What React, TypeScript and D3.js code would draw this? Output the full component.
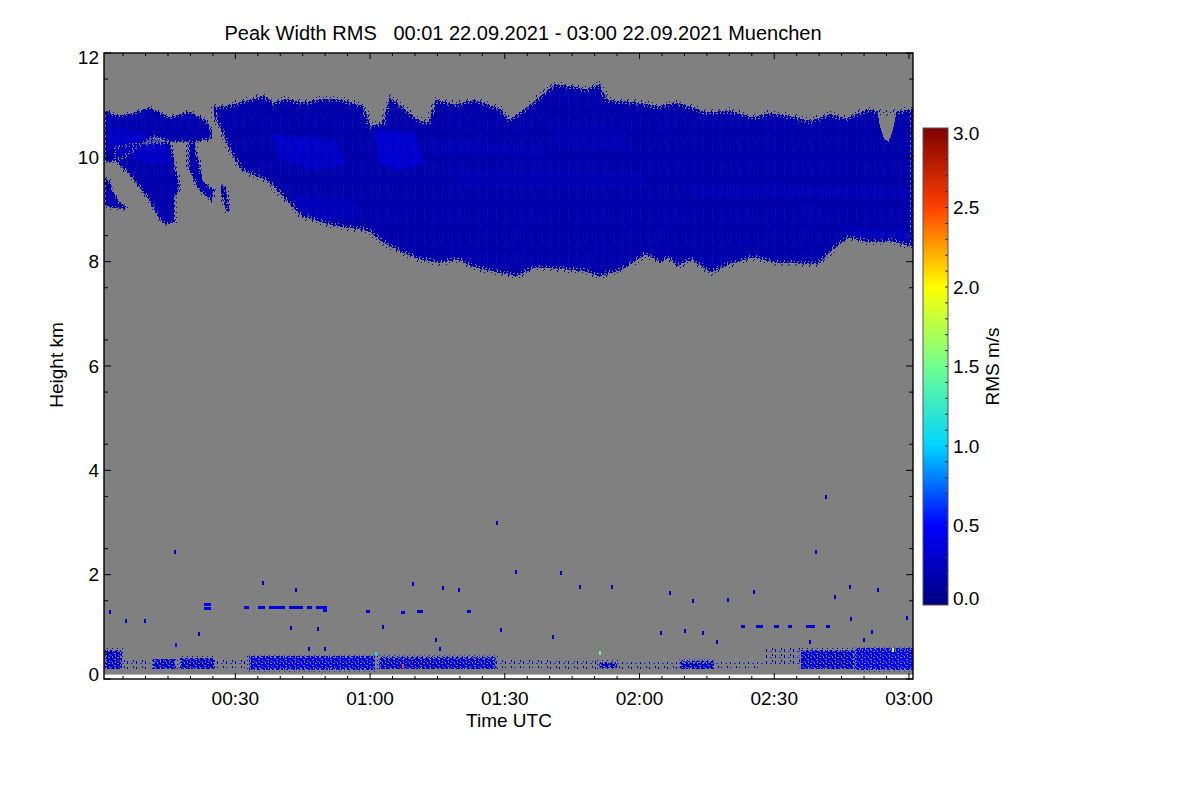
import * as d3 from "d3";

const W = 1200;
const H = 800;
const PLOT = { left: 104, right: 913, top: 53, bottom: 679 };
const CBAR = { left: 923, right: 948, top: 128, bottom: 605 };
const FONT = "'Liberation Sans', Arial, Helvetica, sans-serif";
const GRAY = "#808080";

// time axis in minutes after 00:00 UTC
const TIME_DOMAIN = [0.75, 180.9];
const HEIGHT_DOMAIN = [0, 12];
const DATA_FLOOR_KM = 0.085;

const TIME_TICKS = [30, 60, 90, 120, 150, 180];
const TIME_LABELS = ["00:30", "01:00", "01:30", "02:00", "02:30", "03:00"];
const HEIGHT_TICKS = [0, 2, 4, 6, 8, 10, 12];
const RMS_TICKS = [0, 0.5, 1.0, 1.5, 2.0, 2.5, 3.0];

// colour table: RMS (m/s) -> colour
const RMS_STOPS = [0, 0.5, 1.0, 1.5, 2.0, 2.5, 3.0];
const RMS_COLORS = ["#00007f", "#0000ff", "#00d4ff", "#70ff90", "#ffff00", "#ff4000", "#7f0000"];

// cirrus layer, upper and lower boundary [minute, km]
const MAIN_TOP = [
  [25.2, 10.96], [28.7, 11.0], [33, 11.1], [36.3, 11.19], [38.5, 11.05], [41.4, 11.12],
  [45, 11.05], [49.9, 11.13], [54.1, 11.1], [58.6, 10.98], [60.1, 10.6], [62.8, 10.67],
  [64.4, 11.15], [67.9, 10.92], [70.4, 10.73], [73, 10.67], [74.6, 11.1], [79, 11.02],
  [83.3, 11.1], [89.1, 10.92], [90.9, 10.73], [93.3, 10.85], [96.9, 11.1], [101.1, 11.4],
  [105.3, 11.36], [108, 11.3], [111.1, 11.4], [112.9, 11.1], [119.6, 11.05], [124, 10.98],
  [128.3, 11.05], [135, 10.86], [140, 10.9], [145.2, 10.77], [149, 10.85], [153.7, 10.79],
  [158, 10.7], [162.4, 10.83], [166, 10.75], [170.8, 10.92], [175, 10.85], [180.8, 10.92],
];
const MAIN_BASE = [
  [25.2, 10.8], [26.9, 10.5], [28.7, 10.15], [31.2, 9.77], [37.2, 9.54], [40.5, 9.25],
  [44.8, 8.87], [48.3, 8.77], [52.6, 8.68], [57.7, 8.62], [60.1, 8.56], [62.8, 8.37],
  [67, 8.18], [71.3, 8.04], [75.5, 7.98], [79.7, 8.04], [82.4, 7.91], [88.4, 7.79],
  [92.7, 7.72], [96.9, 7.89], [103.6, 7.85], [108, 7.81], [111.1, 7.72], [116.3, 7.85],
  [121.4, 8.14], [124.7, 7.98], [126.5, 8.08], [128.3, 7.91], [131.6, 8.04], [135.9, 7.79],
  [140.1, 7.95], [145.2, 8.08], [150.3, 7.98], [159.7, 7.95], [163.9, 8.29], [166.6, 8.46],
  [170.8, 8.37], [175.9, 8.39], [180.8, 8.29],
];
const MAIN_RMS = 0.17;

// early cloud pieces before 00:25 [minute, km]
const UPPER_LEFT = [
  [0.7, 10.92], [3.5, 10.8], [6.5, 10.83], [10.9, 10.96], [15.4, 10.77], [19.8, 10.88],
  [23.2, 10.73], [24.7, 10.54], [24.7, 10.35], [21, 10.3], [18, 10.3], [15, 10.3],
  [12, 10.4], [8, 10.2], [5, 10.0], [2, 9.9], [0.7, 9.95],
];
const LOBE_A = [
  [3.1, 10.2], [3.1, 9.96], [7.3, 9.58], [10.7, 9.19], [13.4, 8.77], [14.9, 8.71],
  [16.7, 8.77], [16.5, 9.19], [17.6, 9.44], [16.7, 9.83], [15.4, 10.3],
];
const LOBE_B = [
  [19.4, 10.3], [19.4, 9.83], [20.9, 9.54], [21.8, 9.39], [24.3, 9.19], [24.7, 9.14],
  [25.2, 9.39], [24.1, 9.44], [22.7, 9.58], [20.9, 10.3],
];
const STREAK_C = [[26.9, 9.44], [27.8, 9.46], [28.7, 9.0], [28.0, 8.96], [26.9, 9.3]];
const BLOB_D = [
  [0.75, 9.62], [2, 9.54], [3.1, 9.29], [4.2, 9.14], [5.6, 9.06], [5.4, 9.0],
  [2, 9.04], [0.75, 9.1],
];
const EARLY_RMS = 0.18;

// brighter patches inside the cirrus [minute, km] and their RMS
const PATCH_1 = [[1, 10.6], [8, 10.5], [14, 10.3], [16, 9.9], [10, 9.9], [3, 10.1]];
const PATCH_2 = [[38, 10.45], [52, 10.35], [55, 9.9], [48, 9.75], [40, 9.95]];
const PATCH_3 = [[61, 10.55], [70, 10.45], [72, 9.9], [66, 9.75], [62, 9.9]];
const PATCH_4 = [[42, 9.25], [56, 9.2], [58, 8.85], [47, 8.8]];
const PATCH_5 = [[78, 9.75], [120, 9.7], [122, 9.45], [80, 9.45]];
const PATCH_6 = [[100, 10.6], [115, 10.6], [118, 10.1], [102, 10.2]];
const PATCH_7 = [[130, 9.5], [180.8, 9.4], [180.8, 9.2], [132, 9.25]];
const PATCH_8 = [[165, 8.7], [180.8, 8.6], [180.8, 8.35], [168, 8.45]];
const PATCH_9 = [[74, 10.3], [98, 10.25], [98, 10.0], [74, 10.05]];
const PATCH_RMS = [0.4, 0.42, 0.5, 0.3, 0.25, 0.26, 0.25, 0.28, 0.26];

// gap at the top of the layer near 02:53
const TOP_GAP = [[172.8, 11.0], [177.5, 11.0], [176.5, 10.55], [175.5, 10.3], [174.5, 10.35], [173.5, 10.6]];

// boundary-layer returns [start min, end min, base km, top km, RMS]
const LOW_SEGS = [
  [0.8, 4.7, 0.2, 0.55, 0.3], [4.7, 11.1, 0.2, 0.4, 0.25], [11.6, 16.7, 0.19, 0.38, 0.3],
  [17.6, 25.2, 0.2, 0.4, 0.3], [25.2, 32.5, 0.22, 0.4, 0.3], [33, 61, 0.18, 0.45, 0.42],
  [62, 88, 0.2, 0.42, 0.35], [88, 100, 0.22, 0.38, 0.3], [100, 111, 0.2, 0.35, 0.25],
  [111, 115, 0.21, 0.33, 0.25], [115, 129, 0.2, 0.32, 0.2],
  [129, 136.5, 0.2, 0.35, 0.3], [136.5, 147.5, 0.22, 0.32, 0.2],
  [148, 156, 0.27, 0.6, 0.3], [156, 168, 0.2, 0.55, 0.35], [168, 180.8, 0.18, 0.6, 0.5],
];
const LOW_SPARSE = [false, true, false, false, true, false, false, true, true, false, true, false, true, true, false, false];

// isolated returns [minute, km, RMS]
const SPECKS = [
  [16.5, 2.43, 0.3], [36.1, 1.84, 0.25], [43.6, 1.71, 0.3], [69.5, 1.82, 0.3], [76.2, 1.75, 0.25],
  [79.7, 1.71, 0.3], [92.6, 2.05, 0.3], [102.5, 2.03, 0.25], [106.7, 1.77, 0.3], [5.6, 1.11, 0.35],
  [9.8, 1.11, 0.4], [2, 1.29, 0.3], [42.3, 0.98, 0.3], [48.3, 0.96, 0.25], [62.8, 0.99, 0.3],
  [89.1, 0.94, 0.3], [16.7, 0.65, 0.55], [21.8, 0.86, 0.3], [74.6, 0.75, 0.3], [100.7, 0.8, 0.3],
  [46.5, 0.58, 0.3], [49.9, 0.58, 0.3], [75.5, 0.58, 0.3], [159.3, 2.44, 0.3], [113.8, 1.77, 0.3],
  [126.7, 1.65, 0.3], [131.8, 1.5, 0.3], [139.6, 1.52, 0.3], [145.4, 1.67, 0.3], [166.8, 1.77, 0.3],
  [173, 1.71, 0.3], [163.5, 1.57, 0.3], [167, 1.15, 0.3], [179.5, 1.17, 0.35], [124.7, 0.88, 0.3],
  [130.1, 0.92, 0.3], [134.1, 0.88, 0.3], [171.7, 0.9, 0.3], [137.2, 0.71, 0.3], [169.9, 0.75, 0.3],
  [157.9, 0.71, 0.3], [161.5, 3.49, 0.3], [88.2, 2.99, 0.3], [61.4, 0.47, 1.1], [67.4, 0.25, 2.5],
  [111.2, 0.5, 1.4], [176.5, 0.55, 1.9],
];
// short horizontal returns [start min, end min, km, RMS]
const SPECK_LINES = [
  [23.0, 24.6, 1.42, 0.45], [23.0, 24.6, 1.36, 0.45], [32, 33, 1.38, 0.4], [35, 36.5, 1.38, 0.4],
  [37.5, 41, 1.38, 0.4], [42, 45, 1.38, 0.35], [46, 47, 1.38, 0.35], [48, 50.5, 1.38, 0.4],
  [49.5, 50.5, 1.32, 0.45], [59, 60, 1.3, 0.3], [66.8, 67.8, 1.27, 0.45], [70.5, 71.8, 1.3, 0.3],
  [81.5, 82.5, 1.3, 0.3], [142.5, 143.5, 1.0, 0.3], [146, 147.5, 1.0, 0.35], [150, 151, 1.0, 0.3],
  [153, 154, 1.0, 0.3], [157, 159, 1.0, 0.35], [161.5, 162.5, 1.0, 0.3],
];

const x = d3.scaleLinear().domain(TIME_DOMAIN).range([PLOT.left, PLOT.right]);
const y = d3.scaleLinear().domain(HEIGHT_DOMAIN).range([PLOT.bottom, PLOT.top]);
const yc = d3.scaleLinear().domain([0, 3]).range([CBAR.bottom, CBAR.top]);
const color = d3.scaleLinear<string>().domain(RMS_STOPS).range(RMS_COLORS).clamp(true);

const poly = d3.line<number[]>().x(d => x(d[0])).y(d => y(d[1]));
const closed = (pts: number[][]) => poly(pts) + "Z";

export default function App() {
  const mainOutline = [...MAIN_TOP, ...MAIN_BASE.slice().reverse()];
  const early = [UPPER_LEFT, LOBE_A, LOBE_B, STREAK_C, BLOB_D];
  const patches = [PATCH_1, PATCH_2, PATCH_3, PATCH_4, PATCH_5, PATCH_6, PATCH_7, PATCH_8, PATCH_9];
  const cloudBlue = color(MAIN_RMS);

  const minorX = d3.range(5, 181, 5).filter(m => !TIME_TICKS.includes(m));
  const minorY = d3.range(0.5, 12, 1);
  const minorC = d3.range(0.1, 3.0, 0.1);

  const clampY = (v: number) => Math.max(PLOT.top + 4, Math.min(PLOT.bottom - 5, y(v)));
  const clampC = (v: number) => Math.max(CBAR.top + 5, Math.min(CBAR.bottom - 7, yc(v)));

  return (
    <svg width={W} height={H} style={{ position: "absolute", left: 0, top: 0, background: "#fff" }} fontFamily={FONT}>
      <defs>
        <clipPath id="plotClip">
          <rect x={PLOT.left} y={y(12)} width={PLOT.right - PLOT.left} height={y(DATA_FLOOR_KM) - y(12)} />
        </clipPath>
        <linearGradient id="cbar" x1="0" y1="1" x2="0" y2="0">
          {RMS_STOPS.map((s, i) => (
            <stop key={i} offset={s / 3} stopColor={RMS_COLORS[i]} />
          ))}
        </linearGradient>
        {/* ragged fringe along cloud edges */}
        <pattern id="fringe" width={7} height={5} patternUnits="userSpaceOnUse">
          <rect x={0} y={0} width={1} height={2} fill={GRAY} />
          <rect x={3} y={1} width={1} height={1} fill={GRAY} />
          <rect x={2} y={3} width={2} height={1} fill={GRAY} />
          <rect x={6} y={2} width={1} height={3} fill={GRAY} />
          <rect x={1} y={2} width={1} height={1} fill={cloudBlue} />
          <rect x={4} y={0} width={1} height={2} fill={cloudBlue} />
          <rect x={5} y={4} width={1} height={1} fill={cloudBlue} />
        </pattern>
        <pattern id="fringeLow" width={5} height={4} patternUnits="userSpaceOnUse">
          <rect x={0} y={0} width={1} height={2} fill={GRAY} />
          <rect x={3} y={2} width={2} height={1} fill={GRAY} />
          <rect x={2} y={0} width={1} height={1} fill="#0000d0" />
          <rect x={4} y={3} width={1} height={1} fill="#1a3cff" />
        </pattern>
        {/* vertical profile streaks inside the cloud */}
        <pattern id="streaks" width={9} height={23} patternUnits="userSpaceOnUse">
          <rect x={1} y={0} width={1} height={15} fill="#1414d8" />
          <rect x={5} y={6} width={1} height={17} fill="#000096" />
          <rect x={7} y={2} width={1} height={9} fill="#0a0ac4" />
        </pattern>
        <pattern id="lowDense" width={9} height={6} patternUnits="userSpaceOnUse">
          <rect x={1} y={0} width={1} height={1} fill={GRAY} />
          <rect x={4} y={2} width={1} height={2} fill={GRAY} />
          <rect x={0} y={3} width={2} height={1} fill={GRAY} />
          <rect x={7} y={1} width={1} height={2} fill={GRAY} />
          <rect x={6} y={5} width={2} height={1} fill={GRAY} />
          <rect x={2} y={1} width={2} height={1} fill="#2448ff" />
          <rect x={5} y={4} width={1} height={1} fill="#1a2cff" />
          <rect x={8} y={3} width={1} height={2} fill="#0000b0" />
        </pattern>
        <pattern id="lowSparse" width={9} height={6} patternUnits="userSpaceOnUse">
          <rect x={0} y={0} width={9} height={6} fill={GRAY} />
          <rect x={1} y={1} width={1} height={3} fill="#0000c0" />
          <rect x={5} y={3} width={2} height={1} fill="#1030ff" />
          <rect x={7} y={0} width={1} height={2} fill="#0000a0" />
        </pattern>
      </defs>

      {/* title */}
      <text x={523} y={40} textAnchor="middle" fontSize={20} style={{ whiteSpace: "pre" }}>
        {"Peak Width RMS   00:01 22.09.2021 - 03:00 22.09.2021 Muenchen"}
      </text>

      {/* data area */}
      <rect x={PLOT.left} y={y(12)} width={PLOT.right - PLOT.left} height={y(DATA_FLOOR_KM) - y(12)} fill={GRAY} />
      <g clipPath="url(#plotClip)" shapeRendering="crispEdges">
        <path d={closed(mainOutline)} fill={cloudBlue} />
        {early.map((p, i) => (
          <path key={"e" + i} d={closed(p)} fill={color(EARLY_RMS)} />
        ))}
        {patches.map((p, i) => (
          <path key={"p" + i} d={closed(p)} fill={color(PATCH_RMS[i])} opacity={0.45} />
        ))}
        <path d={closed(mainOutline)} fill="url(#streaks)" opacity={0.35} />
        {early.map((p, i) => (
          <path key={"es" + i} d={closed(p)} fill="url(#streaks)" opacity={0.35} />
        ))}
        <path d={closed(TOP_GAP)} fill={GRAY} />
        <path d={closed(mainOutline)} fill="none" stroke="url(#fringe)" strokeWidth={6} />
        {early.map((p, i) => (
          <path key={"ef" + i} d={closed(p)} fill="none" stroke="url(#fringe)" strokeWidth={4} />
        ))}

        {LOW_SEGS.map((s, i) => {
          const rx = x(s[0]);
          const ry = y(s[3]);
          const rw = x(s[1]) - x(s[0]);
          const rh = y(s[2]) - y(s[3]);
          return (
            <g key={"l" + i}>
              {!LOW_SPARSE[i] && <rect x={rx} y={ry} width={rw} height={rh} fill={color(s[4])} />}
              <rect x={rx} y={ry} width={rw} height={rh} fill={LOW_SPARSE[i] ? "url(#lowSparse)" : "url(#lowDense)"} />
              {!LOW_SPARSE[i] && (
                <rect x={rx} y={ry} width={rw} height={rh} fill="none" stroke="url(#fringeLow)" strokeWidth={4} />
              )}
            </g>
          );
        })}

        {SPECK_LINES.map((s, i) => (
          <rect key={"sl" + i} x={x(s[0])} y={y(s[2]) - 1.5} width={x(s[1]) - x(s[0])} height={3} fill={color(s[3])} />
        ))}
        {SPECKS.map((s, i) => (
          <rect key={"s" + i} x={x(s[0]) - 1} y={y(s[1]) - 2} width={2} height={4} fill={color(s[2])} />
        ))}
      </g>

      {/* frame and ticks */}
      <rect x={PLOT.left} y={PLOT.top} width={PLOT.right - PLOT.left} height={PLOT.bottom - PLOT.top}
        fill="none" stroke="#000" strokeWidth={1.4} />
      {TIME_TICKS.map(t => (
        <g key={"tx" + t} stroke="#000" strokeWidth={1}>
          <line x1={x(t)} x2={x(t)} y1={PLOT.bottom} y2={PLOT.bottom - 6} />
          <line x1={x(t)} x2={x(t)} y1={PLOT.top} y2={PLOT.top + 6} />
        </g>
      ))}
      {minorX.map(t => (
        <g key={"mx" + t} stroke="#000" strokeWidth={1}>
          <line x1={x(t)} x2={x(t)} y1={PLOT.bottom} y2={PLOT.bottom - 3} />
          <line x1={x(t)} x2={x(t)} y1={PLOT.top} y2={PLOT.top + 3} />
        </g>
      ))}
      {HEIGHT_TICKS.map(v => (
        <g key={"ty" + v} stroke="#000" strokeWidth={1}>
          <line x1={PLOT.left} x2={PLOT.left + 7} y1={y(v)} y2={y(v)} />
          <line x1={PLOT.right} x2={PLOT.right - 7} y1={y(v)} y2={y(v)} />
        </g>
      ))}
      {minorY.map(v => (
        <g key={"my" + v} stroke="#000" strokeWidth={1}>
          <line x1={PLOT.left} x2={PLOT.left + 4} y1={y(v)} y2={y(v)} />
          <line x1={PLOT.right} x2={PLOT.right - 4} y1={y(v)} y2={y(v)} />
        </g>
      ))}

      {/* axis labels */}
      {TIME_TICKS.map((t, i) => (
        <text key={"lx" + t} x={x(t)} y={705} textAnchor="middle" fontSize={19}>{TIME_LABELS[i]}</text>
      ))}
      {HEIGHT_TICKS.map(v => (
        <text key={"ly" + v} x={99} y={clampY(v)} dy="0.35em" textAnchor="end" fontSize={19}>{v}</text>
      ))}
      <text x={509} y={727} textAnchor="middle" fontSize={19}>Time UTC</text>
      <text transform={`translate(63,365) rotate(-90)`} textAnchor="middle" fontSize={19}>Height km</text>

      {/* colour bar */}
      <rect x={CBAR.left} y={CBAR.top} width={CBAR.right - CBAR.left} height={CBAR.bottom - CBAR.top}
        fill="url(#cbar)" stroke="#555" strokeWidth={1} />
      {minorC.map(v => (
        <line key={"mc" + v.toFixed(1)} x1={CBAR.right} x2={CBAR.right - 3} y1={yc(v)} y2={yc(v)} stroke="#333" strokeWidth={1} />
      ))}
      {RMS_TICKS.map(v => (
        <text key={"lc" + v} x={953} y={clampC(v)} dy="0.35em" fontSize={19}>{v.toFixed(1)}</text>
      ))}
      <text transform={`translate(999,${(CBAR.top + CBAR.bottom) / 2}) rotate(-90)`} textAnchor="middle" fontSize={19}>RMS m/s</text>
    </svg>
  );
}
